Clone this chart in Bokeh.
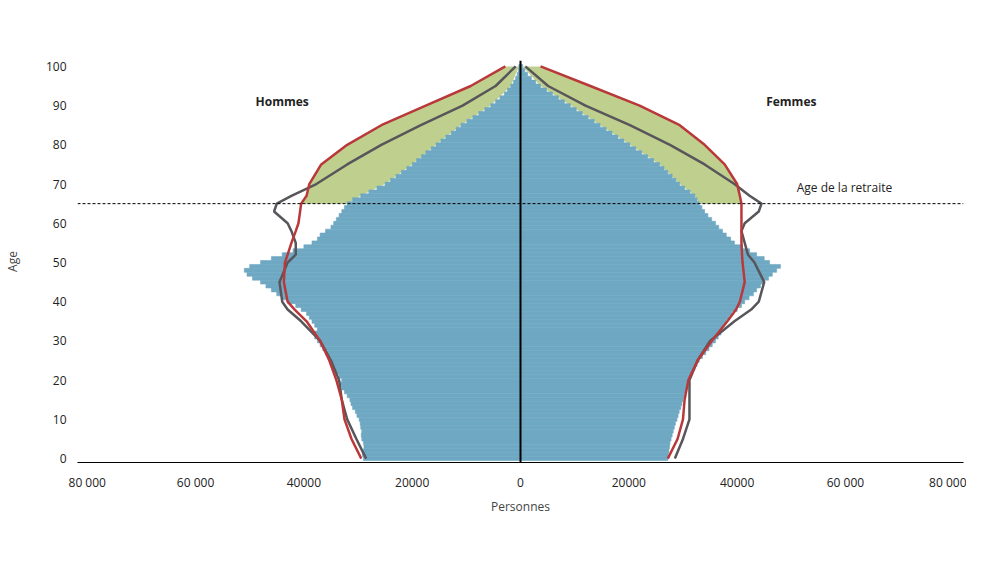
from bokeh.plotting import figure
from bokeh.models import Label, Span, BoxAnnotation, FixedTicker
from bokeh.embed import file_html
from bokeh.resources import INLINE

ages = list(range(0, 101))
men_2010 = [29.0,29.2,29.0,28.9,29.0,29.3,29.4,29.3,29.5,29.6,
 29.8,30.2,30.5,31.0,31.3,31.5,32.0,32.5,33.0,33.3,
 33.0,33.5,34.0,34.5,35.0,35.0,35.5,36.0,36.5,37.0,
 37.5,38.0,38.0,37.5,38.0,38.5,39.0,39.5,40.5,41.5,
 43.0,44.0,45.0,46.0,47.0,48.0,49.5,50.5,51.0,50.0,
 48.0,46.0,44.0,42.0,40.0,38.5,37.5,37.0,36.0,35.0,
 34.5,34.0,33.5,33.0,32.5,32.0,31.0,29.5,28.0,26.5,
 25.0,24.0,23.0,22.0,21.0,20.0,19.2,18.3,17.5,16.5,
 15.6,14.7,13.8,12.8,11.9,11.0,9.9,8.8,7.7,6.6,
 5.5,4.6,3.8,3.0,2.4,1.8,1.3,0.9,0.6,0.4,0.3]
women_2010 = [27.2,27.3,27.4,27.5,27.6,27.8,28.0,28.2,28.4,28.6,
 28.9,29.1,29.3,29.6,29.8,30.0,30.2,30.4,30.6,30.8,
 31.0,31.4,31.8,32.2,32.6,33.0,33.6,34.2,34.8,35.4,
 36.0,36.5,37.0,37.2,37.6,38.0,38.5,39.0,40.0,40.8,
 41.4,42.2,43.0,43.6,44.3,45.0,45.8,46.5,47.3,48.0,
 46.0,45.0,43.6,42.3,41.0,39.5,38.8,38.0,37.3,36.6,
 36.0,35.3,34.6,34.0,33.5,33.0,32.6,32.2,31.3,30.3,
 29.4,28.7,28.0,27.2,26.5,25.7,24.6,23.5,22.4,21.3,
 20.2,19.1,18.0,16.9,15.8,14.7,13.6,12.5,11.4,10.3,
 9.2,8.1,7.0,5.9,4.8,3.7,2.8,2.0,1.3,0.8,0.4]

line_ages = [0,5,10,15,20,25,30,35,38,40,45,50,52,55,58,60,63,65,67,70,75,80,85,90,95,100]
men_2030 = [28.5,30.3,32.0,33.0,33.5,35.0,37.0,40.5,43.0,44.0,44.5,43.0,41.5,41.5,42.3,43.0,45.5,45.0,42.3,37.7,32.0,25.7,18.4,10.7,4.6,0.9]
men_2060 = [29.4,31.2,32.5,33.0,34.0,35.3,37.0,39.5,41.7,43.0,43.7,43.5,43.0,42.3,41.5,41.0,40.7,40.5,39.5,39.0,36.8,32.0,25.7,17.5,9.2,2.8]
women_2030 = [28.5,30.0,31.2,31.2,31.2,32.7,35.0,39.5,42.6,44.0,45.0,43.2,42.0,41.4,40.8,41.4,44.0,44.5,42.3,39.5,34.0,27.6,20.2,12.0,5.1,0.9]
women_2060 = [27.2,29.0,30.0,30.3,31.0,32.7,35.3,38.2,39.8,40.5,41.4,41.0,40.9,40.8,40.8,40.8,40.8,40.8,40.5,40.0,37.7,34.0,29.4,22.0,12.9,3.7]

xticks = [-80000,-60000,-40000,-20000,0,20000,40000,60000,80000]
xlabels = ["80 000","60 000","40000","20000","0","20000","40000","60 000","80 000"]

BLUE = "#6fa8c3"; GREY = "#58565a"; RED = "#b9393a"; GREEN = "#bfd08e"
F = "Open Sans"

p = figure(width=966, height=563, output_backend="svg", toolbar_location=None,
           x_range=(-81800, 81800), y_range=(-1, 101.5),
           min_border_left=73, min_border_right=3, min_border_top=60, min_border_bottom=101)
p.outline_line_color = None
p.grid.visible = False

ga = [a for a in line_ages if a >= 65]
idx = [line_ages.index(a) for a in ga]
p.harea(y=ga, x1=[-men_2010[a]*1000 for a in ga], x2=[-men_2060[i]*1000 for i in idx], fill_color=GREEN)
p.harea(y=ga, x1=[women_2010[a]*1000 for a in ga], x2=[women_2060[i]*1000 for i in idx], fill_color=GREEN)

p.hbar(y=ages, left=[-v*1000 for v in men_2010], right=0, height=1.0, fill_color=BLUE, line_color=BLUE, line_width=0.6)
p.hbar(y=ages, left=0, right=[v*1000 for v in women_2010], height=1.0, fill_color=BLUE, line_color=BLUE, line_width=0.6)

p.line([-v*1000 for v in men_2030], line_ages, line_color=GREY, line_width=2.5)
p.line([v*1000 for v in women_2030], line_ages, line_color=GREY, line_width=2.5)
p.line([-v*1000 for v in men_2060], line_ages, line_color=RED, line_width=2.5)
p.line([v*1000 for v in women_2060], line_ages, line_color=RED, line_width=2.5)

p.add_layout(Span(location=0, dimension="height", line_color="black", line_width=2))
p.add_layout(Span(location=65, dimension="width", line_color="black", line_width=1, line_dash="3 2"))

p.xaxis.ticker = FixedTicker(ticks=xticks)
p.xaxis.major_label_overrides = {t: l for t, l in zip(xticks, xlabels)}
p.yaxis.ticker = FixedTicker(ticks=list(range(0, 101, 10)))
for ax in (p.xaxis, p.yaxis):
    ax.major_tick_line_color = None
    ax.minor_tick_line_color = None
    ax.major_label_text_font = F
    ax.major_label_text_font_size = "12px"
    ax.major_label_text_color = "#222222"
    ax.axis_label_text_font = F
    ax.axis_label_text_font_size = "12px"
    ax.axis_label_text_font_style = "normal"
p.yaxis.axis_line_color = None
p.xaxis.axis_line_color = "black"
p.xaxis.axis_label = "Personnes"
p.xaxis.axis_label_standoff = 4
p.yaxis.axis_label = "Age"
p.yaxis.axis_label_standoff = 22

def lab(x, y, t, size="12px", bold=False, color="#222222", align="left", units="screen"):
    p.add_layout(Label(x=x, y=y, x_units=units, y_units=units, text=t, text_font=F,
                       text_font_size=size, text_font_style="bold" if bold else "normal",
                       text_color=color, text_align=align, text_baseline="middle"))

lab(-44000, 91, "Hommes", bold=True, align="center", units="data")
lab(50000, 91, "Femmes", bold=True, align="center", units="data")
lab(51000, 69, "Age de la retraite", units="data")
lab(-69, 447, "Fig. 4: Pyramide des âges de la Suisse", size="17px", bold=True, color="#333333")
lab(-69, 426, "Comparatif de la structure de la population des années 2010, 2030 et 2060", size="12px")

def box(l, r, b, t, color):
    p.add_layout(BoxAnnotation(left=l, right=r, bottom=b, top=t, left_units="screen", right_units="screen",
                               bottom_units="screen", top_units="screen", fill_color=color, fill_alpha=1,
                               line_color=None, level="overlay"))

ly = -50
box(-57, -17, ly - 5, ly + 5, BLUE); lab(-9, ly, "2010")
box(108, 148, ly - 1.5, ly + 1.5, GREY); lab(156, ly, "2030")
box(278, 318, ly - 1.5, ly + 1.5, RED); lab(326, ly, "2060")
ly2 = -73
box(-57, -17, ly2 - 5, ly2 + 5, GREEN)
lab(-9, ly2, "Augmentation du nombre de personnes en âge de prendre leur retraite (2010\u20132060)")
box(-77, 900, -91.5, -90.5, "black")
lab(-69, -105, "Sources: OFS, propres calculs")

open("out.html", "w").write(file_html(p, INLINE))
